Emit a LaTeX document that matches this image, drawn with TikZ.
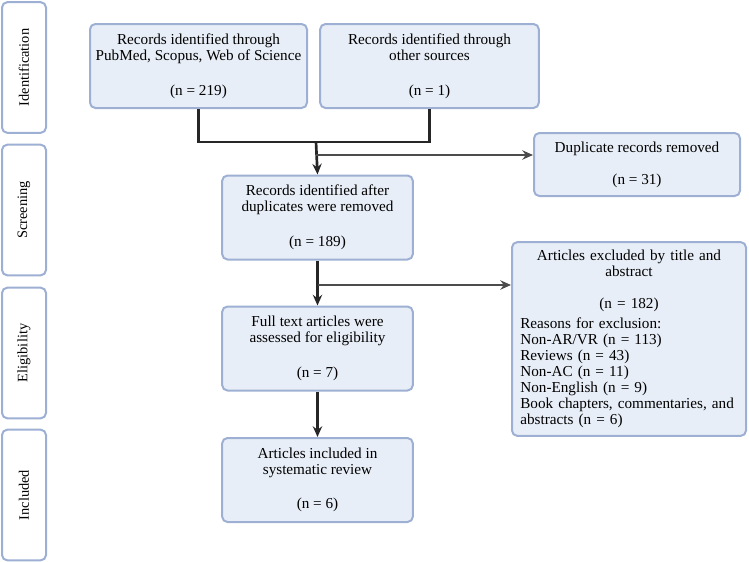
\documentclass[tikz,border=0pt]{standalone}
\usepackage{fontspec}
\setmainfont{Liberation Serif}
\usetikzlibrary{arrows.meta, positioning, calc}
\definecolor{boxfill}{HTML}{E8EEF7}
\definecolor{boxline}{HTML}{9DB0D3}
\tikzset{%
	stage/.style={draw=boxline, fill=white, line width=1.5pt, rounded corners=4pt, rotate=90,%
		minimum width=98pt, minimum height=33pt, inner sep=0pt, font=\fontsize{10.8}{12}\selectfont},
	box/.style={draw=boxline, fill=boxfill, line width=1.5pt, rounded corners=4pt, align=center,%
		minimum width=143pt, minimum height=63pt, inner sep=2pt, font=\fontsize{11.4}{12}\selectfont},
	connector/.style={line width=2pt, draw=black!85},
	sel/.style={connector, -{Stealth[length=8pt,width=7pt]}}
}
\begin{document}
\begin{tikzpicture}[x=0.75pt, y=-0.75pt]
	\useasboundingbox (0,0) rectangle (749,561);
	% stages
	\node[stage] (ident) at (24,67.5) {Identification};
	\node[stage] (screen) at (24,210) {Screening};
	\node[stage] (elig) at (24,353) {Eligibility};
	\node[stage] (incl) at (24,495) {Included};

	\node[box, minimum width=162.75pt] (db) at (198.5,66) {Records identified through\\PubMed, Scopus, Web of Science\\[14pt](n = 219)};
	\node[box, minimum width=164pt] (other) at (429.5,66) {Records identified through\\other sources\\[14pt](n = 1)};
	\node[box] (dedup) at (317.5,217.5) {Records identified after\\duplicates were removed\\[14pt](n = 189)};
	\node[box] (full) at (317.5,348.5) {Full text articles were\\assessed for eligibility\\[14pt](n = 7)};
	\node[box] (incl-box) at (317.5,480) {Articles included in\\systematic review\\[14pt](n = 6)};
	\node[box, minimum width=154.5pt, minimum height=47.25pt] (dup) at (637,164.5) {Duplicate records removed\\[12pt](n = 31)};
	\node[box, minimum width=175.5pt, minimum height=136.5pt, text width=163pt, align=left, inner sep=6pt] (excl) at (629,339)
		{{\centering Articles excluded by title and\\abstract\\[12pt](n = 182)\par}\vspace{3pt}
		Reasons for exclusion:\\Non-AR/VR (n = 113)\\Reviews (n = 43)\\Non-AC (n = 11)\\Non-English (n = 9)\\Book chapters, commentaries, and\\abstracts (n = 6)};

	\coordinate (join) at (316,142);
	\draw [connector] (db.south) |- (join) -| (other.south);
	\draw [sel] (join) to (dedup.north);
	\draw [sel, draw=black!70] (316,155) to (dup.west |- 0,155);
	\draw [sel] (dedup.south) to (full.north);
	\draw [sel, draw=black!70] (318,285) to (excl.west |- 0,285);
	\draw [sel] (full.south) to (incl-box.north);
\end{tikzpicture}
\end{document}
